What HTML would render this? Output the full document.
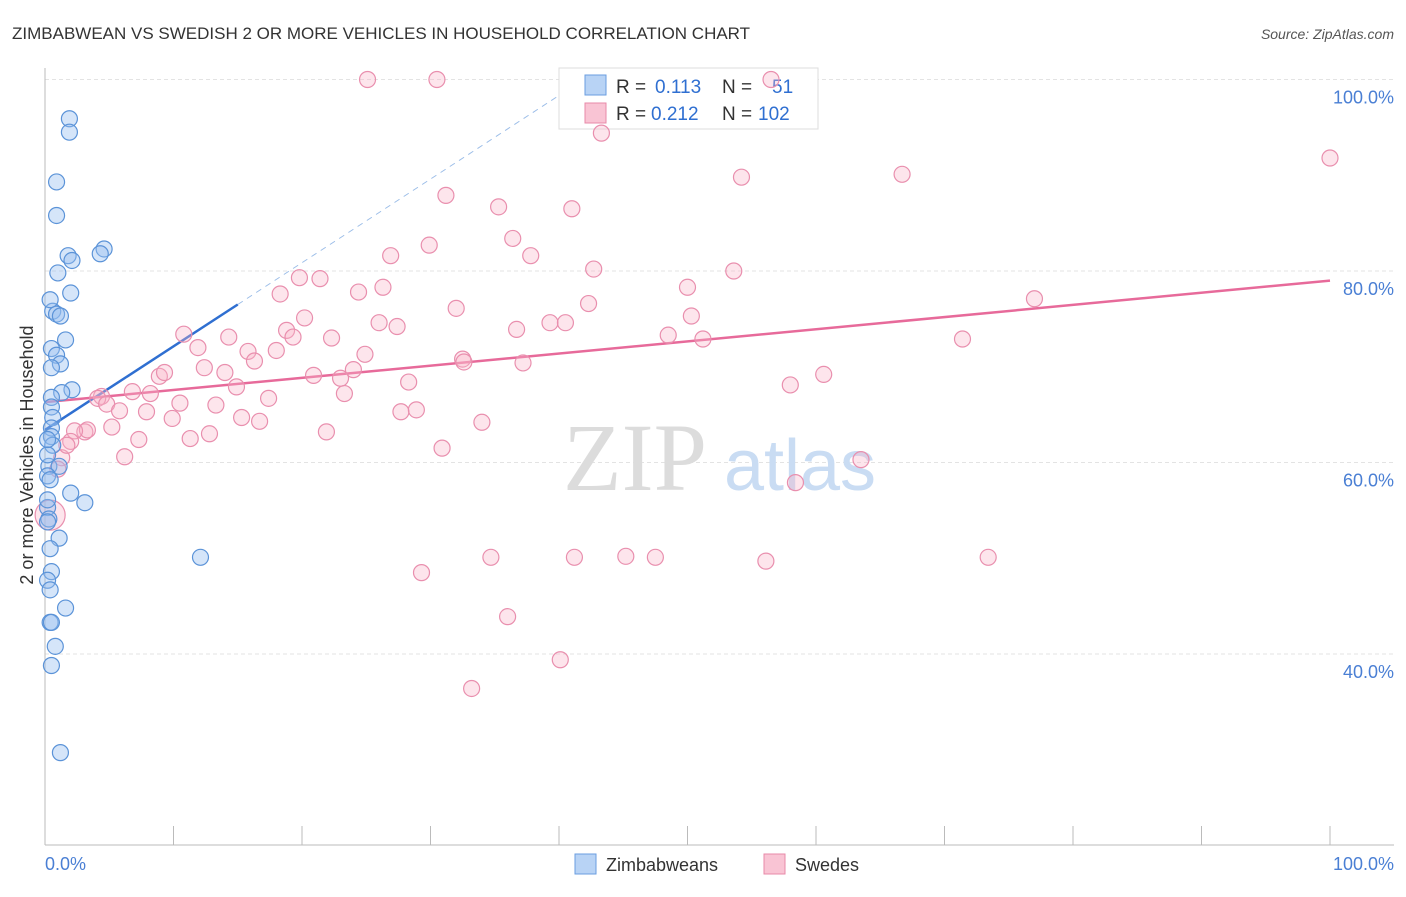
<!DOCTYPE html>
<html><head><meta charset="utf-8"><style>
body{margin:0;background:#fff;font-family:"Liberation Sans",sans-serif;}
</style></head><body>
<svg width="1406" height="892" xmlns="http://www.w3.org/2000/svg" font-family="Liberation Sans, sans-serif">
<text x="12" y="39" font-size="17" fill="#333">ZIMBABWEAN VS SWEDISH 2 OR MORE VEHICLES IN HOUSEHOLD CORRELATION CHART</text>
<text x="1394" y="39" font-size="14" fill="#555" font-style="italic" text-anchor="end">Source: ZipAtlas.com</text>
<g id="grid"></g>
<g id="wm">
<text x="635" y="490" font-size="96" fill="#dcdcdc" font-family="Liberation Serif, serif" text-anchor="middle">ZIP</text>
<text x="800" y="490" font-size="72" fill="#c9dcf3" text-anchor="middle">atlas</text>
</g>
<g id="axes"></g>
<g id="lines"></g>
<g>
<rect x="559" y="68" width="259" height="61" fill="#fff" stroke="#ddd"/>
<rect x="585" y="75" width="21" height="20" fill="#b8d3f5" stroke="#6a9ee0"/>
<rect x="585" y="103" width="21" height="20" fill="#f9c4d4" stroke="#e88aa8"/>
<text x="616" y="93" font-size="19" fill="#333">R =</text>
<text x="655" y="93" font-size="19" fill="#2f6fd1">0.113</text>
<text x="722" y="93" font-size="19" fill="#333">N =</text>
<text x="772" y="93" font-size="19" fill="#2f6fd1">51</text>
<text x="616" y="120" font-size="19" fill="#333">R =</text>
<text x="651" y="120" font-size="19" fill="#2f6fd1">0.212</text>
<text x="722" y="120" font-size="19" fill="#333">N =</text>
<text x="758" y="120" font-size="19" fill="#2f6fd1">102</text>
</g>
<g id="pts"></g>
<text transform="translate(33,455) rotate(-90)" font-size="18" fill="#333" text-anchor="middle">2 or more Vehicles in Household</text>
<g>
<rect x="575" y="854" width="21" height="20" fill="#b8d3f5" stroke="#6a9ee0"/>
<text x="606" y="871" font-size="18" fill="#333">Zimbabweans</text>
<rect x="764" y="854" width="21" height="20" fill="#f9c4d4" stroke="#e88aa8"/>
<text x="795" y="871" font-size="18" fill="#333">Swedes</text>
</g>
</svg>
<script>
const xTicks=[0,10,20,30,40,50,60,70,80,90,100];
const yTicks=[40,60,80,100];
const yTickLabels=["40.0%","60.0%","80.0%","100.0%"];
const blueX=[1.9,1.9,0.9,0.9,1.8,2.1,4.6,4.3,1.0,2.0,0.6,0.9,1.2,1.6,0.5,0.9,1.2,0.5,2.1,1.3,0.5,0.5,0.6,0.5,0.5,0.6,0.3,1.1,0.2,2.0,3.1,0.2,0.3,0.2,1.1,0.4,0.5,1.6,0.4,0.5,0.8,0.5,1.2,12.1,0.2,0.2,0.2,0.4,0.2,0.4,0.4];
const blueY=[95.9,94.5,89.3,85.8,81.6,81.1,82.3,81.8,79.8,77.7,75.8,75.5,75.3,72.8,71.9,71.2,70.3,69.9,67.6,67.3,66.8,65.8,64.7,63.6,62.7,61.8,59.6,59.6,58.6,56.8,55.8,55.3,54.1,53.8,52.1,51.0,48.6,44.8,43.3,43.3,40.8,38.8,29.7,50.1,60.8,56.1,47.7,77.0,62.4,58.2,46.7];
const pinkX=[25.1,30.5,56.5,43.3,100,54.2,66.7,31.2,35.3,41.0,29.9,36.4,26.9,37.8,42.7,53.6,19.8,21.4,18.3,24.4,26.3,50.0,77.0,42.3,32.0,20.2,50.3,10.8,14.3,18.8,19.3,22.3,26.0,27.4,36.7,39.3,40.5,48.5,51.2,71.4,11.9,15.8,18.0,24.9,32.5,32.6,37.2,12.4,14.0,16.3,24.0,20.9,23.0,8.9,9.3,60.6,58.0,14.9,28.3,6.8,8.2,4.4,4.1,4.8,17.4,10.5,23.3,13.3,5.8,7.9,27.7,28.9,15.3,9.9,16.7,34.0,5.2,3.1,3.3,2.3,12.8,21.9,7.3,11.3,2.0,30.9,6.2,1.3,63.5,1.0,58.4,0.4,34.7,41.2,45.2,47.5,56.1,73.4,29.3,36.0,40.1,33.2,1.7];
const pinkY=[100,100,100,94.4,91.8,89.8,90.1,87.9,86.7,86.5,82.7,83.4,81.6,81.6,80.2,80.0,79.3,79.2,77.6,77.8,78.3,78.3,77.1,76.6,76.1,75.1,75.3,73.4,73.1,73.8,73.1,73.0,74.6,74.2,73.9,74.6,74.6,73.3,72.9,72.9,72.0,71.6,71.7,71.3,70.8,70.5,70.4,69.9,69.4,70.6,69.7,69.1,68.8,69.0,69.4,69.2,68.1,67.9,68.4,67.4,67.2,66.9,66.7,66.1,66.7,66.2,67.2,66.0,65.4,65.3,65.3,65.5,64.7,64.6,64.3,64.2,63.7,63.2,63.4,63.3,63.0,63.2,62.4,62.5,62.2,61.5,60.6,60.5,60.3,59.3,57.9,54.5,50.1,50.1,50.2,50.1,49.7,50.1,48.5,43.9,39.4,36.4,61.8];
const blueTrend=[0,63.4,15,76.5];
const pinkTrend=[0,66.3,100,79.0];
const NS="http://www.w3.org/2000/svg";
const X=v=>45+v*12.85, Y=v=>79.5+(100-v)*9.575;
function mk(t,a,p){const e=document.createElementNS(NS,t);for(const k in a)e.setAttribute(k,a[k]);p.appendChild(e);return e;}
const grid=document.getElementById('grid'),axes=document.getElementById('axes'),pts=document.getElementById('pts'),lines=document.getElementById('lines');
yTicks.forEach((v,i)=>{
 const l=mk('line',{x1:45,x2:1394,y1:Y(v),y2:Y(v),stroke:'#e3e3e3','stroke-dasharray':'4,3'},grid);
 
 
 const t=mk('text',{x:1394,y:Y(v)+24,'font-size':18,fill:'#4a7fd4','text-anchor':'end'},axes);
 t.textContent=yTickLabels[i];
 
 
});
mk('line',{x1:45,x2:45,y1:68,y2:845,stroke:'#bbb'},axes);
mk('line',{x1:45,x2:1394,y1:845,y2:845,stroke:'#bbb'},axes);
xTicks.forEach(v=>{
 const l=mk('line',{x1:X(v),x2:X(v),y1:826,y2:845,stroke:'#bbb'},axes);
 
 
});
const x0=mk('text',{x:45,y:870,'font-size':18,fill:'#4a7fd4'},axes);x0.textContent='0.0%';


const x1=mk('text',{x:1394,y:870,'font-size':18,fill:'#4a7fd4','text-anchor':'end'},axes);x1.textContent='100.0%';


pinkX.forEach((v,i)=>{
 const c=mk('circle',{cx:X(v),cy:Y(pinkY[i]),r:(i==91?15:8),fill:'rgba(248,180,200,0.35)',stroke:'#e98fae','stroke-width':1.2},pts);
 
 
});
blueX.forEach((v,i)=>{
 const c=mk('circle',{cx:X(v),cy:Y(blueY[i]),r:8,fill:'rgba(150,190,240,0.4)',stroke:'#5b93d8','stroke-width':1.2},pts);
 
 
});
const bs=(blueTrend[3]-blueTrend[1])/(blueTrend[2]-blueTrend[0]);
const xEnd=blueTrend[0]+(100-blueTrend[1])/bs;
const bd=mk('line',{x1:X(blueTrend[2]),y1:Y(blueTrend[3]),x2:X(xEnd),y2:Y(100),stroke:'#9bbde8','stroke-dasharray':'6,5','stroke-width':1},lines);


const bl=mk('line',{x1:X(blueTrend[0]),y1:Y(blueTrend[1]),x2:X(blueTrend[2]),y2:Y(blueTrend[3]),stroke:'#2f6fd1','stroke-width':2.5},lines);


const pl=mk('line',{x1:X(pinkTrend[0]),y1:Y(pinkTrend[1]),x2:X(pinkTrend[2]),y2:Y(pinkTrend[3]),stroke:'#e76a9a','stroke-width':2.5},lines);


</script>
</body></html>
